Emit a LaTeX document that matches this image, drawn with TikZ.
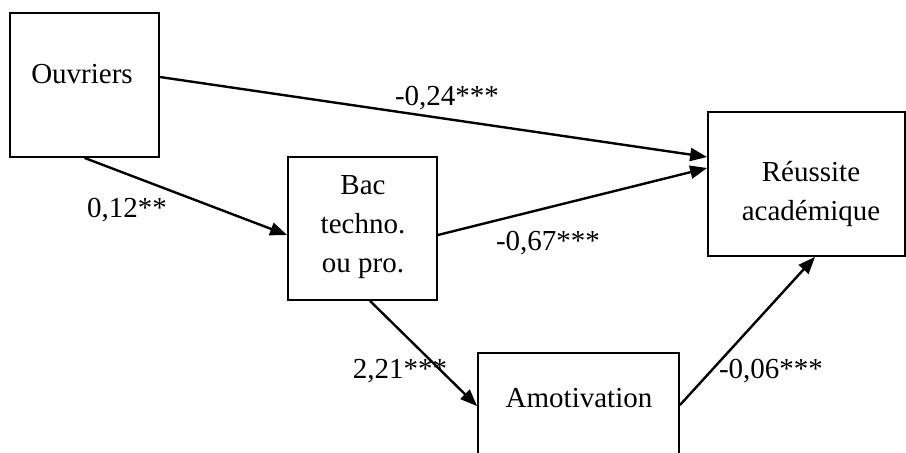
\documentclass[tikz,border=0pt]{standalone}
\usepackage{fontspec}
\setmainfont{Liberation Serif}
\usetikzlibrary{arrows.meta, calc}

\begin{document}
\begin{tikzpicture}[x=0.5pt, y=-0.5pt, >={Triangle[length=8.5pt, width=6.5pt]},
  box/.style={draw, line width=0.9pt, inner sep=0pt},
  txt/.style={font=\fontsize{14.5}{19.3}\selectfont, align=center, inner sep=0pt, anchor=base},
  link/.style={->, line width=1.2pt}]
  \useasboundingbox (0,0) rectangle (906,452);

  % Boxes
  \node[box, minimum width=74.5pt, minimum height=72pt] (ouv) at (84.5,85) {};
  \node[box, minimum width=74.5pt, minimum height=71.5pt] (bac) at (362.5,228.5) {};
  \node[box, minimum width=98.5pt, minimum height=72pt] (reu) at (806.5,184) {};
  \node[box, minimum width=100.5pt, minimum height=72pt] (amo) at (578.5,425) {};

  % Box texts (base = last line)
  \node[txt] (ouvtext) at (82,83) {Ouvriers};
  \node[txt] (bactext) at (363,272) {Bac\\techno.\\ou pro.};
  \node[txt] (reutext) at (811,220) {Réussite\\académique};
  \node[txt] (amotext) at (579,407) {Amotivation};

  % Paths
  \draw[link] ([yshift=4pt]ouv.east) -- ([yshift=13.5pt]reu.west);
  \draw[link] (ouv.south) -- ([yshift=-3.25pt]bac.west);
  \draw[link] ([yshift=-3.25pt]bac.east) -- ([yshift=8pt]reu.west);
  \draw[link] ([xshift=3.75pt]bac.south) -- ([yshift=-27pt]amo.north west);
  \draw[link] ([yshift=-26.5pt]amo.north east) -- ([xshift=4.25pt]reu.south);

  % Coefficients
  \node[txt] (c1) at (447,105) {-0,24***};
  \node[txt] (c2) at (127,217) {0,12**};
  \node[txt] (c3) at (548,250) {-0,67***};
  \node[txt] (c4) at (400,378) {2,21***};
  \node[txt] (c5) at (771,378) {-0,06***};
\end{tikzpicture}
\end{document}
